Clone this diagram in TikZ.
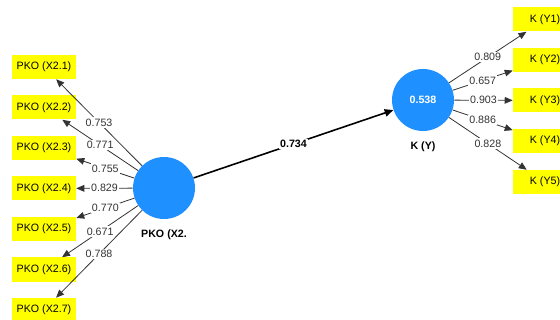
\documentclass[tikz,border=0pt]{standalone}
\usepackage{fontspec}
\setmainfont{Liberation Sans}
\usepackage{tikz}
\usetikzlibrary{arrows.meta,positioning}
\definecolor{plsblue}{RGB}{30,144,255}
\definecolor{plsyellow}{RGB}{255,255,0}
\definecolor{plsgray}{RGB}{51,51,51}
\tikzset{
  plsfont/.style={font=\fontsize{8pt}{9.6pt}\selectfont},
  plsbold/.style={font=\fontsize{8pt}{9.6pt}\selectfont\bfseries},
  plsind/.style={fill=plsyellow, minimum width=48pt, minimum height=18pt, inner sep=0pt},
  plslv/.style={circle, fill=plsblue, minimum size=46.5pt, inner sep=0pt, text=white, plsbold},
  plsname/.style={plsbold, inner sep=2pt},
  plsarr/.style={-{Triangle[length=6pt,width=5pt]}, line width=0.6pt, draw=plsgray},
  plspath/.style={-{Triangle[length=6.5pt,width=5.5pt]}, line width=1.2pt, draw=black},
  plsload/.style={fill=white, inner sep=1pt, text=plsgray, pos=0.5}
}
\begin{document}
\begin{tikzpicture}[x=0.75pt, y=-0.75pt, plsfont]
  \useasboundingbox (0,0) rectangle (560,320);
  % latent variables
  \node[plslv] (pko) at (164,188) {};
  \node[plslv] (k) at (423,100) {0.538};
  \node[plsname, below=6pt of pko] (pkoname) {PKO (X2.};
  \node[plsname, below=6pt of k] (kname) {K (Y)};
  % indicators
  \node[plsind] (x1) at (44,67) {PKO (X2.1)};
  \node[plsind] (x2) at (44,107.5) {PKO (X2.2)};
  \node[plsind] (x3) at (44,148) {PKO (X2.3)};
  \node[plsind] (x4) at (44,188.5) {PKO (X2.4)};
  \node[plsind] (x5) at (44,229) {PKO (X2.5)};
  \node[plsind] (x6) at (44,269.5) {PKO (X2.6)};
  \node[plsind] (x7) at (44,310) {PKO (X2.7)};
  \node[plsind] (y1) at (545,19.5) {K (Y1)};
  \node[plsind] (y2) at (545,60) {K (Y2)};
  \node[plsind] (y3) at (545,100.5) {K (Y3)};
  \node[plsind] (y4) at (545,141) {K (Y4)};
  \node[plsind] (y5) at (545,182) {K (Y5)};
  % loadings
  \draw[plsarr] (pko) -- node[plsload] {0.753} (x1);
  \draw[plsarr] (pko) -- node[plsload] {0.771} (x2);
  \draw[plsarr] (pko) -- node[plsload] {0.755} (x3);
  \draw[plsarr] (pko) -- node[plsload] {0.829} (x4);
  \draw[plsarr] (pko) -- node[plsload] {0.770} (x5);
  \draw[plsarr] (pko) -- node[plsload] {0.671} (x6);
  \draw[plsarr] (pko) -- node[plsload] {0.788} (x7);
  \draw[plsarr] (k) -- node[plsload] {0.809} (y1);
  \draw[plsarr] (k) -- node[plsload] {0.657} (y2);
  \draw[plsarr] (k) -- node[plsload] {0.903} (y3);
  \draw[plsarr] (k) -- node[plsload] {0.886} (y4);
  \draw[plsarr] (k) -- node[plsload] {0.828} (y5);
  % path
  \draw[plspath] (pko) -- node[plsload, text=black, plsbold] {0.734} (k);
\end{tikzpicture}
\end{document}
